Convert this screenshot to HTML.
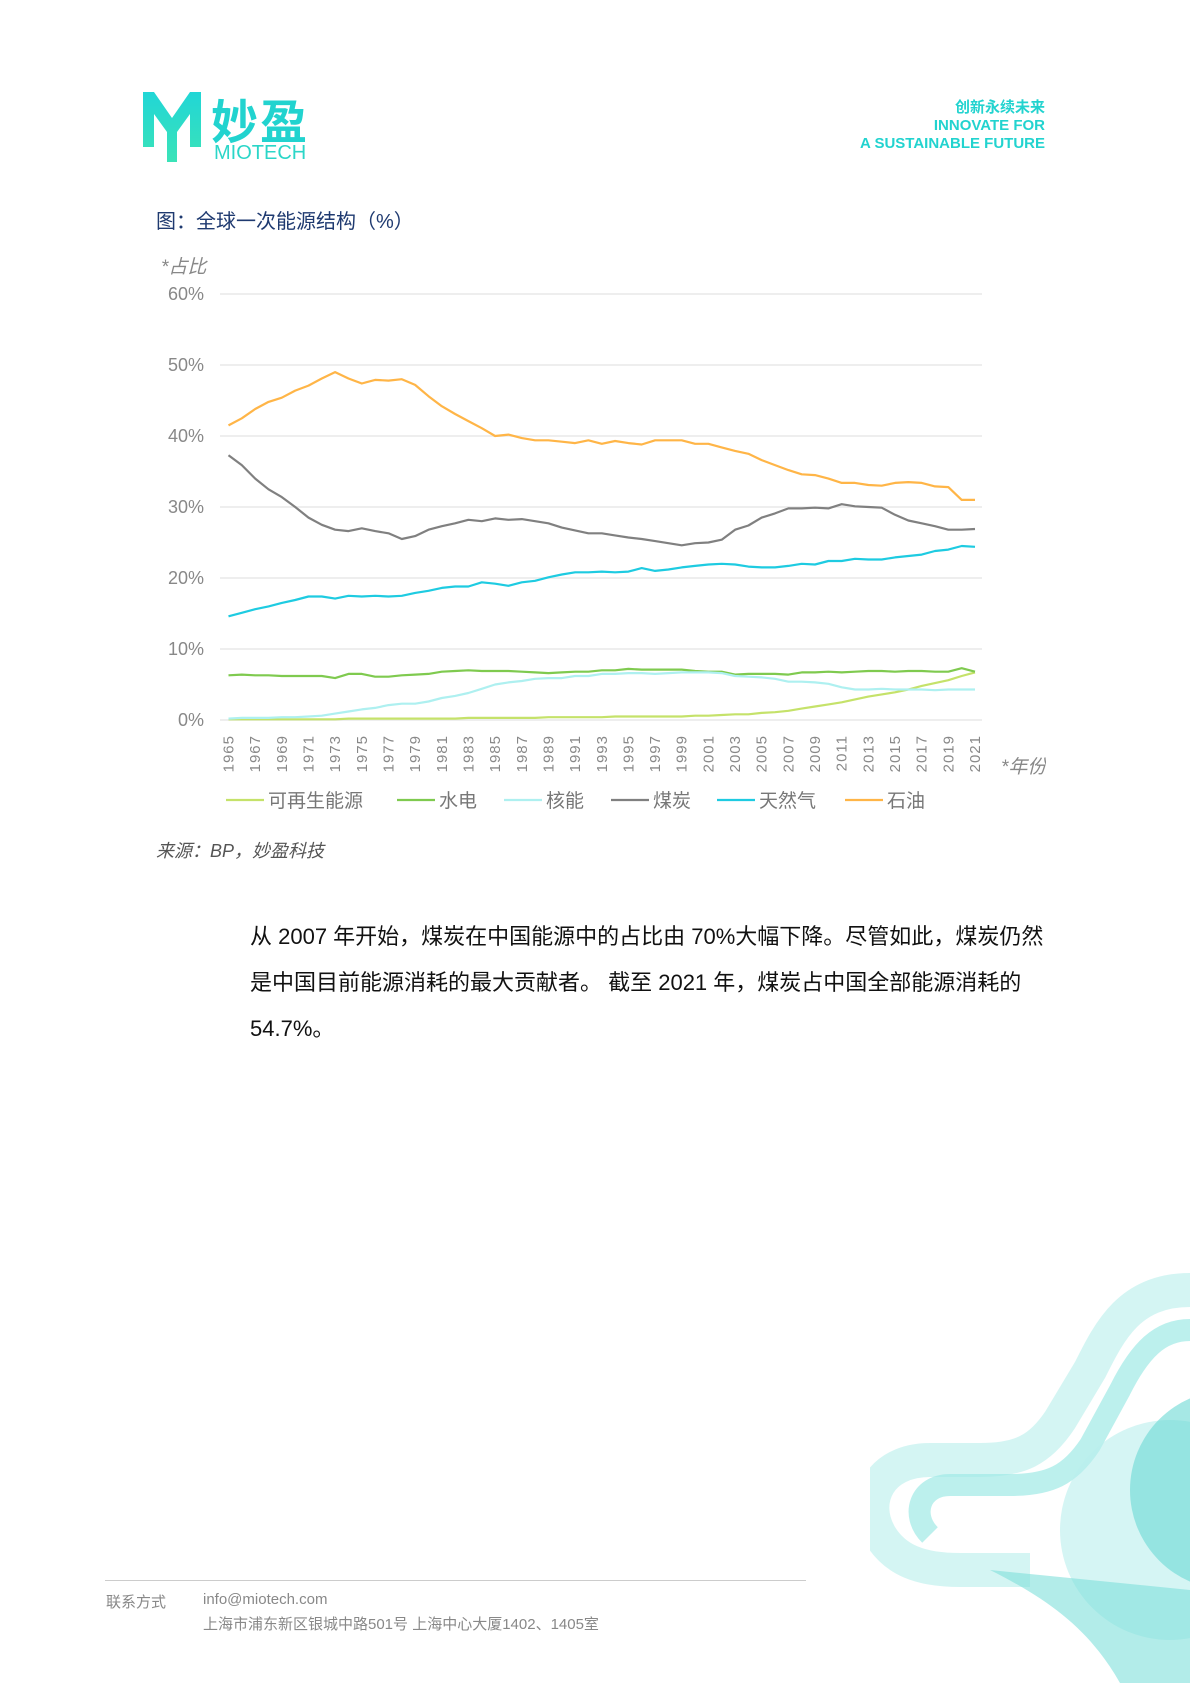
<!DOCTYPE html>
<html><head><meta charset="utf-8">
<style>
body{margin:0;background:#fff;}
#page{position:relative;width:1190px;height:1683px;overflow:hidden;background:#fff;font-family:"Liberation Sans","Noto Sans CJK SC",sans-serif;}
.abs{position:absolute;}
</style></head><body>
<div id="page">
  <svg class="abs" style="left:143px;top:92px" width="58" height="70">
    <defs><linearGradient id="lg" x1="0" y1="0" x2="0" y2="1"><stop offset="0" stop-color="#21d6d6"/><stop offset="1" stop-color="#3be3b8"/></linearGradient></defs>
    <path d="M0 0 L11 0 L29 26 L47 0 L58 0 L58 55 L47 55 L47 22 L34 40 L34 70 L24 70 L24 40 L11 22 L11 55 L0 55 Z" fill="url(#lg)"/>
  </svg>
  <div class="abs" style="left:211px;top:84px;font-size:47px;font-weight:bold;color:#22d3cf;letter-spacing:2px;">妙盈</div>
  <div class="abs" style="left:214px;top:142px;font-size:20px;color:#2bd6c8;">MIOTECH</div>
  <div class="abs" style="right:145px;top:99px;text-align:right;font-size:15px;font-weight:bold;color:#22d3cf;line-height:18px;">创新永续未来<br>INNOVATE FOR<br>A SUSTAINABLE FUTURE</div>

  <div class="abs" style="left:156px;top:205px;font-size:20px;color:#1f3a70;">图：全球一次能源结构（%）</div>

  <svg class="abs" id="chart" style="left:0;top:0" width="1046" height="830"></svg>

  <div class="abs" style="left:156px;top:837px;font-size:18px;font-style:italic;color:#555;">来源：BP，妙盈科技</div>

  <div class="abs" style="left:250px;top:914px;width:860px;font-size:22px;color:#111;line-height:46px;">从 2007 年开始，煤炭在中国能源中的占比由 70%大幅下降。尽管如此，煤炭仍然<br>是中国目前能源消耗的最大贡献者。 截至 2021 年，煤炭占中国全部能源消耗的<br>54.7%。</div>

  <svg class="abs" style="left:870px;top:1270px" width="320" height="413">
    <path d="M320 20 C260 20 240 60 220 100 L190 150 C170 180 150 190 110 190 L60 190 C10 190 -10 230 10 265 C25 290 50 300 90 300 L160 300" fill="none" stroke="#c9f3f0" stroke-width="34" opacity="0.8"/>
    <path d="M320 60 C290 60 270 80 250 120 L220 175 C200 205 180 215 140 215 L80 215 C50 215 40 245 60 265" fill="none" stroke="#9fe9e6" stroke-width="22" opacity="0.7"/>
    <circle cx="300" cy="260" r="110" fill="#b9efec" opacity="0.6"/>
    <circle cx="360" cy="220" r="100" fill="#6ad9d4" opacity="0.6"/>
    <path d="M120 300 C180 330 220 360 250 413 L320 413 L320 320 Z" fill="#7fe0db" opacity="0.6"/>
  </svg>

  <div class="abs" style="left:105px;top:1580px;width:701px;height:1px;background:#ccc;"></div>
  <div class="abs" style="left:106px;top:1591px;font-size:15px;color:#888;">联系方式</div>
  <div class="abs" style="left:203px;top:1591px;font-size:15px;color:#888;">info@miotech.com</div>
  <div class="abs" style="left:203px;top:1613px;font-size:15px;color:#888;">上海市浦东新区银城中路501号 上海中心大厦1402、1405室</div>
</div>
<script>
const years = [];
for (let y = 1965; y <= 2021; y++) years.push(y);
const yTicks = [0,10,20,30,40,50,60];
const seriesNames = ["可再生能源","水电","核能","煤炭","天然气","石油"];
const seriesColors = ["#c5e26a","#7fca4f","#aef0f0","#808080","#1ecbe1","#ffb547"];
const renewables = [0.1,0.1,0.1,0.1,0.1,0.1,0.1,0.1,0.1,0.2,0.2,0.2,0.2,0.2,0.2,0.2,0.2,0.2,0.3,0.3,0.3,0.3,0.3,0.3,0.4,0.4,0.4,0.4,0.4,0.5,0.5,0.5,0.5,0.5,0.5,0.6,0.6,0.7,0.8,0.8,1.0,1.1,1.3,1.6,1.9,2.2,2.5,2.9,3.3,3.6,3.9,4.3,4.8,5.2,5.6,6.2,6.7];
const hydro = [6.3,6.4,6.3,6.3,6.2,6.2,6.2,6.2,5.9,6.5,6.5,6.1,6.1,6.3,6.4,6.5,6.8,6.9,7.0,6.9,6.9,6.9,6.8,6.7,6.6,6.7,6.8,6.8,7.0,7.0,7.2,7.1,7.1,7.1,7.1,6.9,6.8,6.8,6.4,6.5,6.5,6.5,6.4,6.7,6.7,6.8,6.7,6.8,6.9,6.9,6.8,6.9,6.9,6.8,6.8,7.3,6.8];
const nuclear = [0.2,0.3,0.3,0.3,0.4,0.4,0.5,0.6,0.9,1.2,1.5,1.7,2.1,2.3,2.3,2.6,3.1,3.4,3.8,4.4,5.0,5.3,5.5,5.8,5.9,5.9,6.2,6.2,6.5,6.5,6.6,6.6,6.5,6.6,6.7,6.7,6.7,6.6,6.2,6.1,6.0,5.8,5.4,5.4,5.3,5.1,4.6,4.3,4.3,4.4,4.3,4.3,4.3,4.2,4.3,4.3,4.3];
const coal = [37.3,35.9,34.0,32.5,31.4,30.0,28.5,27.5,26.8,26.6,27.0,26.6,26.3,25.5,25.9,26.8,27.3,27.7,28.2,28.0,28.4,28.2,28.3,28.0,27.7,27.1,26.7,26.3,26.3,26.0,25.7,25.5,25.2,24.9,24.6,24.9,25.0,25.4,26.8,27.4,28.5,29.1,29.8,29.8,29.9,29.8,30.4,30.1,30.0,29.9,28.9,28.1,27.7,27.3,26.8,26.8,26.9];
const gas = [14.6,15.1,15.6,16.0,16.5,16.9,17.4,17.4,17.1,17.5,17.4,17.5,17.4,17.5,17.9,18.2,18.6,18.8,18.8,19.4,19.2,18.9,19.4,19.6,20.1,20.5,20.8,20.8,20.9,20.8,20.9,21.4,21.0,21.2,21.5,21.7,21.9,22.0,21.9,21.6,21.5,21.5,21.7,22.0,21.9,22.4,22.4,22.7,22.6,22.6,22.9,23.1,23.3,23.8,24.0,24.5,24.4];
const oil = [41.5,42.5,43.8,44.8,45.4,46.4,47.1,48.1,49.0,48.1,47.4,47.9,47.8,48.0,47.2,45.6,44.2,43.1,42.1,41.1,40.0,40.2,39.7,39.4,39.4,39.2,39.0,39.4,38.9,39.3,39.0,38.8,39.4,39.4,39.4,38.9,38.9,38.4,37.9,37.5,36.6,35.9,35.2,34.6,34.5,34.0,33.4,33.4,33.1,33.0,33.4,33.5,33.4,32.9,32.8,31.0,31.0];
const seriesData = [renewables,hydro,nuclear,coal,gas,oil];

const svg = document.getElementById('chart');
const NS = 'http://www.w3.org/2000/svg';
const X0 = 228.5, X1 = 975, Y0 = 720, Y60 = 294;
function xs(y){ return X0 + (y - years[0]) / (years[years.length-1] - years[0]) * (X1 - X0); }
function ys(v){ return Y0 - v / 60 * (Y0 - Y60); }
function mk(tag, attrs){ const e = document.createElementNS(NS, tag); for (const k in attrs) e.setAttribute(k, attrs[k]); svg.appendChild(e); return e; }

yTicks.forEach(t => {
  const g = mk('line', {x1:220, x2:982, y1:ys(t), y2:ys(t), stroke:'#eeeeee', 'stroke-width':2});
  
  
  const l = mk('text', {x:204, y:ys(t)+6, 'text-anchor':'end', 'font-size':18, fill:'#888', 'font-family':'Liberation Sans, sans-serif'});
  l.textContent = t + '%';
  
  
});
const yt = mk('text', {x:161, y:273, 'font-size':19, fill:'#888', 'font-style':'italic', 'font-family':'Liberation Sans, Noto Sans CJK SC, sans-serif'});
yt.textContent = '*占比';



years.forEach(y => {
  if ((y - 1965) % 2 !== 0) return;
  const x = xs(y);
  const t = mk('text', {x:0, y:0, 'text-anchor':'end', 'font-size':15, fill:'#888', 'font-family':'Liberation Sans, sans-serif', transform:'translate(' + (x+5) + ',735) rotate(-90)', 'letter-spacing':'1'});
  t.textContent = y;
  
  
});
const xt = mk('text', {x:1001, y:773, 'font-size':19, fill:'#888', 'font-style':'italic', 'font-family':'Liberation Sans, Noto Sans CJK SC, sans-serif'});
xt.textContent = '*年份';



seriesData.forEach((arr, i) => {
  const d = arr.map((v, j) => (j ? 'L' : 'M') + xs(years[j]).toFixed(1) + ' ' + ys(v).toFixed(1)).join(' ');
  const p = mk('path', {d:d, fill:'none', stroke:seriesColors[i], 'stroke-width':2.2, 'stroke-linejoin':'round'});
  
  
});

const legendX = [226,397,504,611,717,845];
seriesNames.forEach((n, i) => {
  const l = mk('line', {x1:legendX[i], x2:legendX[i]+38, y1:800, y2:800, stroke:seriesColors[i], 'stroke-width':2.2});
  
  
  const t = mk('text', {x:legendX[i]+42, y:807, 'font-size':19, fill:'#777', 'font-family':'Liberation Sans, Noto Sans CJK SC, sans-serif'});
  t.textContent = n;
  
  
});
</script>
</body></html>
